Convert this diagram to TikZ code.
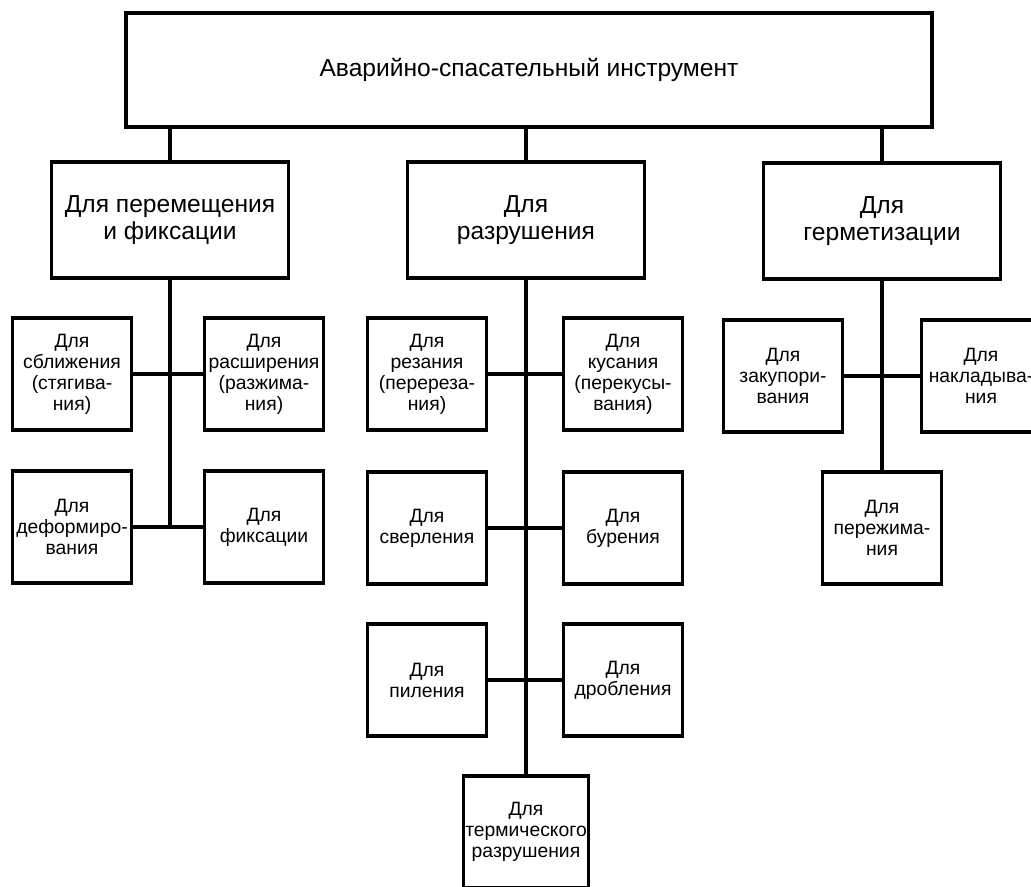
\documentclass[tikz,border=0pt]{standalone}
\usepackage{fontspec}
\setmainfont{Liberation Sans}
\usetikzlibrary{positioning}

\begin{document}
\begin{tikzpicture}[x=0.02cm,y=-0.02cm,
  box/.style={draw,line width=2pt,align=center,inner sep=1pt},
  headbox/.style={box,minimum width=16.12cm,minimum height=2.28cm,font=\fontsize{14}{16}\selectfont},
  groupbox/.style={box,minimum width=4.74cm,minimum height=2.32cm,font=\fontsize{14}{15.5}\selectfont},
  toolbox/.style={box,minimum width=2.38cm,minimum height=2.24cm,font=\fontsize{11}{12}\selectfont},
  link/.style={line width=2pt}]
%\draw[help lines] (0,0) grid[step=50] (1031,886);
\useasboundingbox (0,0) rectangle (1031,886);
\clip (0,0) rectangle (1031,886);

\node[headbox] (top) at (529,70) {Аварийно-спасательный инструмент};

\node[groupbox] (perem) at (170,220) {Для перемещения\\и фиксации};
\node[groupbox] (razr) at (526,220) {Для\\разрушения};
\node[groupbox] (germ) at (882,221) {Для\\герметизации};

% left group
\node[toolbox] (sbl) at (72,374) {Для\\сближения\\(стягива-\\ния)};
\node[toolbox] (rassh) at (264,374) {Для\\расширения\\(разжима-\\ния)};
\node[toolbox] (deform) at (72,527) {Для\\деформиро-\\вания};
\node[toolbox] (fiks) at (264,527) {Для\\фиксации};

% middle group
\node[toolbox] (rez) at (427,374) {Для\\резания\\(перереза-\\ния)};
\node[toolbox] (kus) at (623,374) {Для\\кусания\\(перекусы-\\вания)};
\node[toolbox] (sverl) at (427,528) {Для\\сверления};
\node[toolbox] (bur) at (623,528) {Для\\бурения};
\node[toolbox] (pil) at (427,680) {Для\\пиления};
\node[toolbox] (drob) at (623,680) {Для\\дробления};
\node[toolbox] (term) at (526,832) {Для\\термического\\разрушения};

% right group
\node[toolbox] (zak) at (783,376) {Для\\закупори-\\вания};
\node[toolbox] (nakl) at (981,376) {Для\\накладыва-\\ния};
\node[toolbox] (perezh) at (882,528) {Для\\пережима-\\ния};

\draw[link] (perem.north) -- (perem.north |- top.south);
\draw[link] (razr.north) -- (razr.north |- top.south);
\draw[link] (germ.north) -- (germ.north |- top.south);

\draw[link] (perem.south) -- (perem.south |- deform.east);
\draw[link] (sbl.east) -- (rassh.west);
\draw[link] (deform.east) -- (fiks.west);

\draw[link] (razr.south) -- (term.north);
\draw[link] (rez.east) -- (kus.west);
\draw[link] (sverl.east) -- (bur.west);
\draw[link] (pil.east) -- (drob.west);

\draw[link] (germ.south) -- (perezh.north);
\draw[link] (zak.east) -- (nakl.west);

\end{tikzpicture}
\end{document}
